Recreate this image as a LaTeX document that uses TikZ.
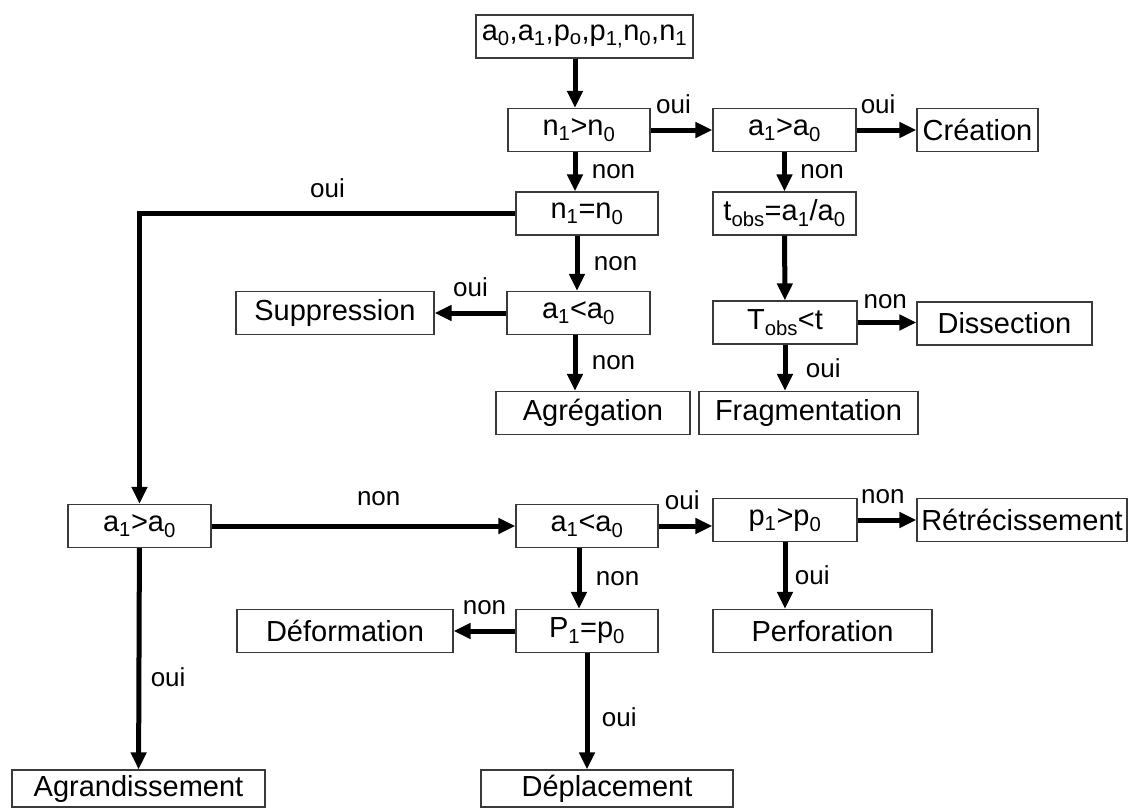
\documentclass[tikz,border=0pt]{standalone}
\usepackage{fontspec}
\setmainfont{Liberation Sans}
\usepackage{tikz}
\usetikzlibrary{arrows.meta,positioning,calc}
\definecolor{ink}{HTML}{000000}
\definecolor{frame}{HTML}{3A3A3A}
\newcommand{\ix}[1]{\textsubscript{#1}}

\begin{document}
\begin{tikzpicture}[x=1pt,y=-1pt,
    box/.style={draw=frame,line width=1.1pt,minimum height=43pt,inner sep=2pt,
                font=\fontsize{29}{34}\selectfont},
    flow/.style={ink,line width=5pt,-{Triangle[length=17pt,width=15pt]}},
    lbl/.style={font=\fontsize{26}{30}\selectfont,text=ink}]
  \useasboundingbox (0,0) rectangle (1128,808);
  % tests on the counts
  \node[box,minimum width=217] (in) at (584.5,36.5) {a\ix{0},a\ix{1},p\ix{o},p\ix{1,}n\ix{0},n\ix{1}};
  \node[box,minimum width=142] (n1gt) at (579,130) {n\ix{1}>n\ix{0}};
  \node[box,minimum width=143] (a1gt) at (784.5,130) {a\ix{1}>a\ix{0}};
  \node[box,minimum width=121] (crea) at (977.5,130) {Création};
  \node[box,minimum width=142] (n1eq) at (587,213.5) {n\ix{1}=n\ix{0}};
  \node[box,minimum width=143] (tobseq) at (784.5,213.5) {t\ix{obs}=a\ix{1}/a\ix{0}};
  \node[box,minimum width=143] (a1lt) at (578.5,313) {a\ix{1}<a\ix{0}};
  \node[box,minimum width=198] (supp) at (335,313) {Suppression};
  \node[box,minimum width=144] (Tobslt) at (785,322.5) {T\ix{obs}<t};
  \node[box,minimum width=175] (diss) at (1004.5,323.5) {Dissection};
  \node[box,minimum width=194] (agre) at (593,413) {Agrégation};
  \node[box,minimum width=219] (frag) at (808.5,413) {Fragmentation};
  % same count
  \node[box,minimum width=143] (a1gtL) at (139.5,526) {a\ix{1}>a\ix{0}};
  \node[box,minimum width=142] (a1ltB) at (587,526) {a\ix{1}<a\ix{0}};
  \node[box,minimum width=144] (p1gt) at (785,520) {p\ix{1}>p\ix{0}};
  \node[box,minimum width=210] (retr) at (1022,520) {Rétrécissement};
  \node[box,minimum width=142] (P1eq) at (587,631) {P\ix{1}=p\ix{0}};
  \node[box,minimum width=216] (defo) at (345,631) {Déformation};
  \node[box,minimum width=219] (perf) at (822.5,631) {Perforation};
  \node[box,minimum width=253,minimum height=37] (agrand) at (138.5,788.5) {Agrandissement};
  \node[box,minimum width=252,minimum height=37] (depl) at (607,788.5) {Déplacement};

  \draw[flow] ([xshift=-9.5pt]in.south) -- ([xshift=-4pt]n1gt.north);
  \draw[flow] (n1gt) -- node[lbl,above=10pt,pos=0.37] {oui} (a1gt);
  \draw[flow] (a1gt) -- node[lbl,above=10pt,pos=0.36] {oui} (crea);
  \draw[flow] ([xshift=-4pt]n1gt.south) -- node[lbl,right=11pt] {non} ([xshift=-12pt]n1eq.north);
  \draw[flow] (a1gt) -- node[lbl,right=10pt] {non} (tobseq);
  \draw[flow] (n1eq.west) -| node[lbl,above=10pt,pos=0.25] {oui} (a1gtL.north);
  \draw[flow] ([xshift=-10pt]n1eq.south) -- node[lbl,right=11pt] {non} ([xshift=-1.5pt]a1lt.north);
  \draw[flow] (tobseq) -- (Tobslt);
  \draw[flow] (a1lt) -- node[lbl,above=10pt] {oui} (supp);
  \draw[flow] ([xshift=-3.5pt]a1lt.south) -- node[lbl,right=11pt] {non} ([xshift=-18pt]agre.north);
  \draw[flow] (Tobslt.east) -- node[lbl,above=8pt,pos=0.47] {non} (Tobslt.east -| diss.west);
  \draw[flow] (Tobslt.south) -- node[lbl,right=15pt] {oui} (Tobslt.south |- frag.north);
  \draw[flow] (a1gtL) -- node[lbl,above=14pt,pos=0.55] {non} (a1ltB);
  \draw[flow] (a1gtL) -- node[lbl,right=6pt,pos=0.585] {oui} (agrand);
  \draw[flow] (a1ltB.east) -- node[lbl,above=10pt,pos=0.44] {oui} (a1ltB.east -| p1gt.west);
  \draw[flow] (p1gt) -- node[lbl,above=10pt,pos=0.43] {non} (retr);
  \draw[flow] ([xshift=-8pt]a1ltB.south) -- node[lbl,right=11pt] {non} ([xshift=-8pt]P1eq.north);
  \draw[flow] (p1gt.south) -- node[lbl,right=4pt] {oui} (p1gt.south |- perf.north);
  \draw[flow] (P1eq) -- node[lbl,above=10pt] {non} (defo);
  \draw[flow] (P1eq.south) -- node[lbl,right=9pt,pos=0.55] {oui} (P1eq.south |- depl.north);
\end{tikzpicture}
\end{document}
